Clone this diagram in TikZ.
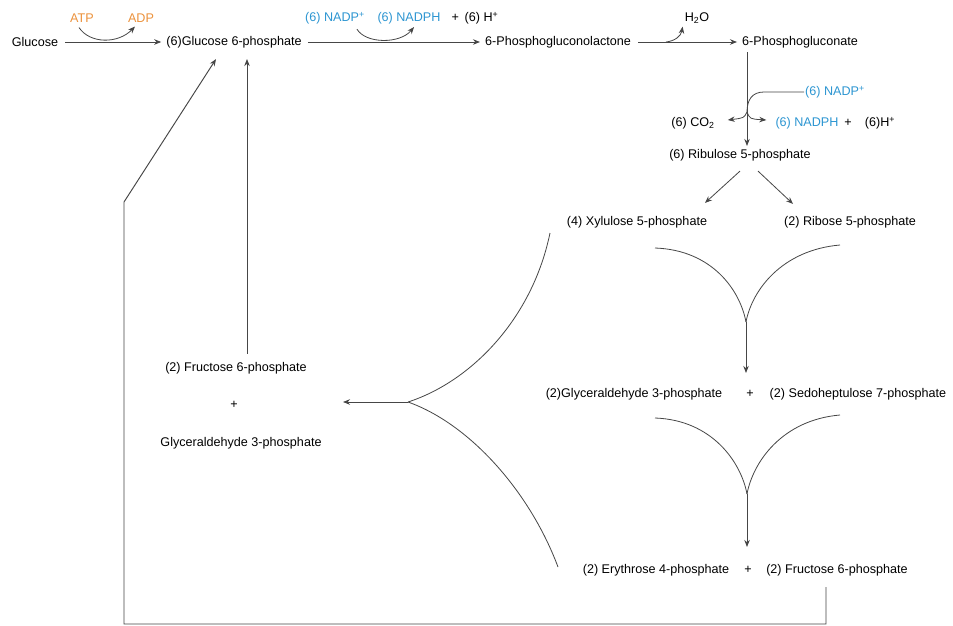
\documentclass[tikz,border=0pt]{standalone}
\usepackage{fontspec}
\setmainfont{Liberation Sans}
\usetikzlibrary{arrows.meta,calc}
\definecolor{orng}{RGB}{236,146,60}
\definecolor{blu}{RGB}{45,150,210}
\definecolor{lnc}{RGB}{70,70,70}
\begin{document}
\begin{tikzpicture}[x=1pt,y=-1pt,
  font=\fontsize{12.6}{14}\selectfont,
  every node/.style={inner sep=1pt, anchor=center},
  arr/.style={-{Stealth[length=7pt,width=5.5pt]}, line width=0.8pt, draw=lnc},
  ln/.style={line width=0.8pt, draw=lnc},
  bl/.style={text=blu},
  og/.style={text=orng}]
\useasboundingbox[fill=white] (0,0) rectangle (953,626);

% row 1
\node (glu) at (35,42) {Glucose};
\node (g6p) at (234,42) {(6)Glucose 6-phosphate};
\node (pgl) at (558,42) {6-Phosphogluconolactone};
\node (pgn) at (800,42) {6-Phosphogluconate};
\node[og] (atp) at (82,18) {ATP};
\node[og] (adp) at (141,18) {ADP};
\node[bl] (nadpa) at (335,18) {(6) NADP\textsuperscript{+}};
\node[bl] (nadpha) at (409,18) {(6) NADPH};
\node (ha) at (475,18) {+ \,(6) H\textsuperscript{+}};
\node (h2o) at (697,18) {H\textsubscript{2}O};

% oxidative branch
\node[bl] (nadpb) at (835,92) {(6) NADP\textsuperscript{+}};
\node (co2) at (693,123) {(6) CO\textsubscript{2}};
\node[bl] (nadphb) at (807,123) {(6) NADPH};
\node (plb) at (848,123) {+};
\node (hb) at (880,123) {(6)H\textsuperscript{+}};
\node (rib) at (740,155) {(6) Ribulose 5-phosphate};
\node (xyl) at (637,222) {(4) Xylulose 5-phosphate};
\node (r5p) at (850,222) {(2) Ribose 5-phosphate};

% non-oxidative
\node (gap2) at (634,394) {(2)Glyceraldehyde 3-phosphate};
\node (plc) at (750,394) {+};
\node (s7p) at (858,394) {(2) Sedoheptulose 7-phosphate};
\node (e4p) at (656,570) {(2) Erythrose 4-phosphate};
\node (pld) at (748,570) {+};
\node (f6pb) at (837,570) {(2) Fructose 6-phosphate};
\node (f6pa) at (236,368) {(2) Fructose 6-phosphate};
\node (ple) at (234,405) {+};
\node (gapa) at (241,443) {Glyceraldehyde 3-phosphate};

% row 1 arrows
\draw[arr, shorten <=6pt, shorten >=4pt] (glu.east) -- (g6p.west);
\draw[arr, shorten <=5pt, shorten >=4pt] (g6p.east) -- (pgl.west);
\draw[arr, shorten <=6pt, shorten >=4pt] (pgl.east) -- (pgn.west);
\draw[arr] ($(atp.south)+(-3,4)$) .. controls (90,44) and (118,44) .. ($(adp.south)+(-6,3)$);
\draw[arr] ($(nadpa.south)+(22,4)$) .. controls (366,44) and (400,44) .. ($(nadpha.south)+(5,2)$);
\coordinate (hw) at (666,42);
\draw[arr] (hw) .. controls (675,41) and (681,36) .. ($(h2o.south west)+(-1,2)$);

% oxidative decarboxylation
\coordinate (br) at (747,112);
\draw[ln, shorten <=3pt] (pgn.south -| br) -- (br);
\draw[arr, shorten >=2pt] (br) -- (rib.north -| br);
\draw[ln] (nadpb.west) -- (764,92) .. controls (752,92) and (747,100) .. (br);
\draw[arr] (br) .. controls (744,118) .. ($(co2.east)+(12,-3)$);
\draw[arr] (br) .. controls (750,119) .. ($(nadphb.west)+(-8,-3)$);

% ribulose split
\draw[arr] ($(rib.south)+(0,9)$) -- ($(xyl.north)+(68,-12)$);
\draw[arr] ($(rib.south)+(18,9)$) -- ($(r5p.north)+(-57,-11)$);

% transketolase 1
\coordinate (m1) at (746,322);
\draw[ln] (655,248) .. controls (712,250) and (740,290) .. (m1);
\draw[ln] (840,245) .. controls (782,250) and (752,290) .. (m1);
\draw[arr, shorten >=14pt] (m1) -- (gap2.north -| m1);

% transaldolase
\coordinate (m2) at (747,494);
\draw[ln] (655,418) .. controls (712,420) and (741,462) .. (m2);
\draw[ln] (840,415) .. controls (782,420) and (753,462) .. (m2);
\draw[arr, shorten >=16pt] (m2) -- (e4p.north -| m2);

% transketolase 2
\coordinate (m3) at (408,402);
\coordinate (l3) at (343,402);
\draw[ln] (550,233) .. controls (532,320) and (470,382) .. (m3);
\draw[ln] (558,567) .. controls (530,492) and (470,424) .. (m3);
\draw[arr] (m3) -- (l3);

% return to glucose 6-phosphate
\draw[arr] ($(f6pa.north)+(11,-7)$) -- ($(g6p.south)+(13,10)$);
\draw[arr, line width=0.95pt] ($(f6pb.south)+(-11,10)$) -- (826,624) -- (124,624) -- (124,202) -- ($(g6p.south)+(-18,10)$);
\end{tikzpicture}
\end{document}
